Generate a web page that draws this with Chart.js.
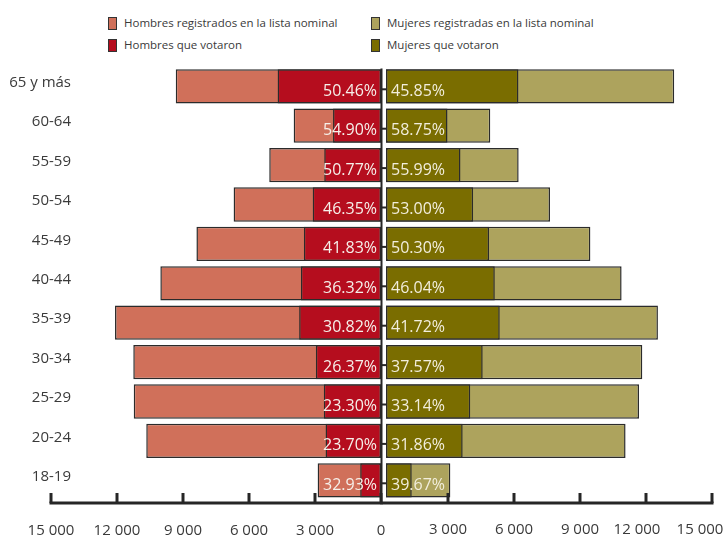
<!DOCTYPE html>
<html>
<head>
<meta charset="utf-8">
<script src="https://cdn.jsdelivr.net/npm/chart.js@4.4.0/dist/chart.umd.min.js"></script>
<style>
body{margin:0;width:725px;height:539px;overflow:hidden;background:#fff;position:relative;font-family:"Open Sans",sans-serif;}
canvas{position:absolute;top:0;}
#cL{left:0;width:420px;height:539px}
#cR{left:300px;width:425px;height:539px}
.lg{position:absolute;font-size:11.5px;color:#3a3a3a;white-space:nowrap;line-height:14px}
.lg i{position:absolute;left:0;top:1px;width:7px;height:11px;border:1px solid #333}
.lg span{margin-left:16px}
</style>
</head>
<body>
<div class="lg" style="left:108px;top:16px"><i style="background:#D0705A"></i><span>Hombres registrados en la lista nominal</span></div>
<div class="lg" style="left:108px;top:38px"><i style="background:#B50D1E"></i><span>Hombres que votaron</span></div>
<div class="lg" style="left:371px;top:16px"><i style="background:#ADA35D"></i><span>Mujeres registradas en la lista nominal</span></div>
<div class="lg" style="left:371px;top:38px"><i style="background:#7A6D00"></i><span>Mujeres que votaron</span></div>
<canvas id="cL" width="420" height="539"></canvas>
<canvas id="cR" width="425" height="539"></canvas>
<script>
// datos
const grupos = ['65 y más','60-64','55-59','50-54','45-49','40-44','35-39','30-34','25-29','20-24','18-19'];
const hombresRegistrados = [9330, 3970, 5080, 6700, 8390, 10030, 12090, 11260, 11240, 10670, 2880];
const hombresVotaron = [4700, 2180, 2580, 3105, 3505, 3640, 3720, 2960, 2600, 2520, 945];
const mujeresRegistradas = [13100, 4740, 6030, 7455, 9290, 10710, 12360, 11650, 11500, 10890, 2925];
const mujeresVotaron = [6020, 2795, 3385, 3960, 4685, 4945, 5170, 4395, 3830, 3485, 1170];
const pctHombres = ['50.46%','54.90%','50.77%','46.35%','41.83%','36.32%','30.82%','26.37%','23.30%','23.70%','32.93%'];
const pctMujeres = ['45.85%','58.75%','55.99%','53.00%','50.30%','46.04%','41.72%','37.57%','33.14%','31.86%','39.67%'];
const ticksX = [0, 3000, 6000, 9000, 12000, 15000];

const fmt = v => String(v).replace(/\B(?=(\d{3})+(?!\d))/g, ' ');
const txtColor = '#3a3a3a';
const lineColor = '#262626';

function barDs(label, data, color) {
    return {
        label: label,
        data: data,
        backgroundColor: color,
        borderColor: '#2b2b2b',
        borderWidth: 1.5,
        borderSkipped: false,
        grouped: false,
        categoryPercentage: 1,
        barPercentage: 0.87
    };
}

function xAxis(reverse, showTicks) {
    return {
        type: 'linear',
        min: 0, max: 15000,
        reverse: reverse,
        afterBuildTicks: s => { s.ticks = ticksX.map(v => ({value: v})); },
        afterFit: s => { s.height = 39; },
        grid: {display: false, drawTicks: false},
        border: {display: false},
        ticks: {
            display: showTicks,
            autoSkip: false,
            maxRotation: 0,
            padding: 22,
            color: txtColor,
            font: {family: 'Open Sans', size: 15},
            callback: v => fmt(v)
        }
    };
}

const yAxis = {type: 'category', display: false, offset: true};

// lado de hombres
const decoL = {
    id: 'decoL',
    afterDatasetsDraw(chart) {
        const ctx = chart.ctx, x = chart.scales.x, y = chart.scales.y, area = chart.chartArea;
        ctx.save();
        ctx.font = '16px "Open Sans"';
        ctx.fillStyle = '#f6f0ea';
        ctx.textAlign = 'right';
        ctx.textBaseline = 'middle';
        chart.getDatasetMeta(0).data.forEach((bar, i) => {
            ctx.fillText(pctHombres[i], Math.max(bar.x, bar.base) - 4, bar.y + 5);
        });
        ctx.font = '15px "Open Sans"';
        ctx.fillStyle = txtColor;
        grupos.forEach((g, i) => ctx.fillText(g, 71, y.getPixelForValue(i) - 3.5));
        // eje
        const yb = area.bottom + 3;
        ctx.strokeStyle = lineColor;
        ctx.lineWidth = 3;
        ctx.beginPath();
        ctx.moveTo(x.getPixelForValue(15000) - 1.5, yb);
        ctx.lineTo(x.getPixelForValue(0), yb);
        ctx.stroke();
        ticksX.forEach(v => {
            const px = x.getPixelForValue(v);
            ctx.beginPath(); ctx.moveTo(px, yb - 10); ctx.lineTo(px, yb); ctx.stroke();
        });
        ctx.restore();
    }
};

// lado de mujeres
const decoR = {
    id: 'decoR',
    beforeDatasetsDraw(chart) {
        chart.ctx.save();
        chart.ctx.translate(4, 0);
    },
    afterDatasetsDraw(chart) {
        const ctx = chart.ctx, x = chart.scales.x, y = chart.scales.y, area = chart.chartArea;
        ctx.restore();
        ctx.save();
        ctx.font = '16px "Open Sans"';
        ctx.fillStyle = '#f2eedc';
        ctx.textAlign = 'left';
        ctx.textBaseline = 'middle';
        chart.getDatasetMeta(0).data.forEach((bar, i) => {
            ctx.fillText(pctMujeres[i], Math.min(bar.x, bar.base) + 9, bar.y + 5);
        });
        const yb = area.bottom + 3;
        const x0 = x.getPixelForValue(0) - 0.5;
        ctx.strokeStyle = lineColor;
        ctx.lineWidth = 2;
        ctx.beginPath(); ctx.moveTo(x0, area.top + 2); ctx.lineTo(x0, yb + 1.5); ctx.stroke();
        grupos.forEach((g, i) => {
            const py = y.getPixelForValue(i) + 3;
            ctx.beginPath(); ctx.moveTo(x0, py); ctx.lineTo(x0 + 5, py); ctx.stroke();
        });
        ctx.lineWidth = 3;
        ctx.beginPath();
        ctx.moveTo(x0, yb);
        ctx.lineTo(x.getPixelForValue(15000) + 1.5, yb);
        ctx.stroke();
        ticksX.forEach(v => {
            if (v === 0) return;
            const px = x.getPixelForValue(v);
            ctx.beginPath(); ctx.moveTo(px, yb - 10); ctx.lineTo(px, yb); ctx.stroke();
        });
        // etiquetas del eje; las dos ultimas van corridas a la izquierda como en el original
        ctx.font = '15px "Open Sans"';
        ctx.fillStyle = txtColor;
        ctx.textAlign = 'center';
        ticksX.forEach((v, i) => {
            if (v === 0) return;
            const shift = i === ticksX.length - 1 ? -12 : (i === ticksX.length - 2 ? -9 : 0);
            ctx.fillText(fmt(v), x.getPixelForValue(v) + shift, yb + 27);
        });
        ctx.restore();
    }
};

const common = {
    indexAxis: 'y',
    responsive: false,
    animation: false,
    plugins: {legend: {display: false}, tooltip: {enabled: false}}
};

new Chart(document.getElementById('cL'), {
    type: 'bar',
    data: {
        labels: grupos,
        datasets: [
            barDs('Hombres que votaron', hombresVotaron, '#B50D1E'),
            barDs('Hombres registrados en la lista nominal', hombresRegistrados, '#D0705A')
        ]
    },
    options: Object.assign({}, common, {
        layout: {padding: {left: 51, right: 39, top: 66.6, bottom: 0}},
        scales: {x: xAxis(true, true), y: yAxis}
    }),
    plugins: [decoL]
});

new Chart(document.getElementById('cR'), {
    type: 'bar',
    data: {
        labels: grupos,
        datasets: [
            barDs('Mujeres que votaron', mujeresVotaron, '#7A6D00'),
            barDs('Mujeres registradas en la lista nominal', mujeresRegistradas, '#ADA35D')
        ]
    },
    options: Object.assign({}, common, {
        layout: {padding: {left: 82, right: 13, top: 66.6, bottom: 0}},
        scales: {x: xAxis(false, false), y: yAxis}
    }),
    plugins: [decoR]
});
</script>
</body>
</html>
